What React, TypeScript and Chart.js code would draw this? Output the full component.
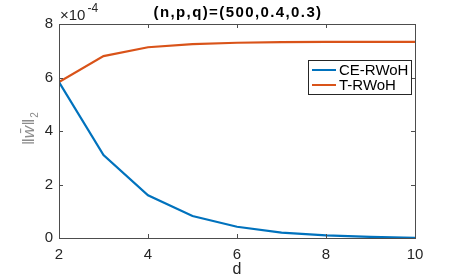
import React, { useEffect, useRef } from "react";
import { Chart, registerables } from "chart.js";

Chart.register(...registerables);

const dValues = [2, 3, 4, 5, 6, 7, 8, 9, 10];
const ceRWoH = [5.83, 3.1, 1.6, 0.82, 0.42, 0.2, 0.1, 0.04, 0.01];
const tRWoH = [5.83, 6.8, 7.13, 7.25, 7.3, 7.32, 7.33, 7.33, 7.33];
const xTicks = [2, 4, 6, 8, 10];
const yTicks = [0, 2, 4, 6, 8];
const seriesLabels = ["CE-RWoH", "T-RWoH"];
const seriesColors = ["#0072BD", "#D95319"];
const titleText = "(n,p,q)=(500,0.4,0.3)";
const xLabel = "d";

const FONT = "Liberation Sans, Arial, Helvetica, sans-serif";

const decorPlugin = {
  id: "decor",
  afterDatasetsDraw(chart: any) {
    const { ctx, chartArea } = chart;
    const { left, right, top, bottom } = chartArea;
    const xs = chart.scales.x;
    const ys = chart.scales.y;
    ctx.save();
    // box
    ctx.strokeStyle = "#4d4d4d";
    ctx.lineWidth = 1;
    ctx.strokeRect(Math.round(left) + 0.5, Math.round(top) + 0.5, Math.round(right - left), Math.round(bottom - top));
    // inward ticks
    const tl = 4;
    ctx.beginPath();
    xTicks.forEach((v) => {
      const px = Math.round(xs.getPixelForValue(v)) + 0.5;
      ctx.moveTo(px, bottom);
      ctx.lineTo(px, bottom - tl);
      ctx.moveTo(px, top);
      ctx.lineTo(px, top + tl);
    });
    yTicks.forEach((v) => {
      const py = Math.round(ys.getPixelForValue(v)) + 0.5;
      ctx.moveTo(left, py);
      ctx.lineTo(left + tl, py);
      ctx.moveTo(right, py);
      ctx.lineTo(right - tl, py);
    });
    ctx.stroke();

    // title
    ctx.save();
    ctx.fillStyle = "#000";
    ctx.font = `bold 15px ${FONT}`;
    (ctx as any).letterSpacing = "1.4px";
    ctx.textAlign = "center";
    ctx.textBaseline = "middle";
    ctx.fillText(titleText, (left + right) / 2 + 1, 13);
    ctx.restore();

    // exponent
    ctx.fillStyle = "#262626";
    ctx.font = `15px ${FONT}`;
    ctx.textAlign = "left";
    ctx.textBaseline = "alphabetic";
    ctx.fillText("\u00d710", left + 1, 20);
    const w10 = ctx.measureText("\u00d710").width;
    ctx.font = `12px ${FONT}`;
    ctx.fillText("-4", left + 1 + w10 + 2, 11.5);

    // x label
    ctx.font = `16px ${FONT}`;
    ctx.textAlign = "center";
    ctx.textBaseline = "middle";
    ctx.fillStyle = "#262626";
    ctx.fillText(xLabel, (left + right) / 2, 270);

    // y label (rotated)
    ctx.save();
    ctx.translate(29, 129);
    ctx.rotate(-Math.PI / 2);
    ctx.fillStyle = "#8c8c8c";
    ctx.font = `italic 17px ${FONT}`;
    ctx.textAlign = "left";
    ctx.textBaseline = "middle";
    const main = "\u2016w\u0304\u2016";
    const mw = ctx.measureText(main).width;
    ctx.fillText(main, -mw / 2 - 3, 0);
    ctx.font = `10px ${FONT}`;
    ctx.fillText("2", mw / 2 - 3 + 1, 6);
    ctx.restore();

    // legend
    const lx = 308, ly = 60, lw = 103, lh = 34;
    ctx.fillStyle = "#fff";
    ctx.fillRect(lx, ly, lw, lh);
    ctx.strokeStyle = "#262626";
    ctx.lineWidth = 1;
    ctx.strokeRect(lx + 0.5, ly + 0.5, lw, lh);
    chart.data.datasets.forEach((ds: any, i: number) => {
      const yy = ly + 10 + i * 15;
      ctx.strokeStyle = ds.borderColor;
      ctx.lineWidth = 2;
      ctx.beginPath();
      ctx.moveTo(lx + 4, yy);
      ctx.lineTo(lx + 28, yy);
      ctx.stroke();
      ctx.fillStyle = "#000";
      ctx.font = `15px ${FONT}`;
      ctx.textAlign = "left";
      ctx.textBaseline = "middle";
      ctx.fillText(ds.label, lx + 31, yy + 1);
    });
    ctx.restore();
  },
};

export default function App() {
  const ref = useRef<HTMLCanvasElement>(null);
  useEffect(() => {
    document.body.style.margin = "0";
    const canvas = ref.current!;
    const chart = new Chart(canvas, {
      type: "line",
      data: {
        datasets: seriesLabels.map((label, i) => ({
          label,
          data: dValues.map((d, j) => ({ x: d, y: (i === 0 ? ceRWoH : tRWoH)[j] })),
          borderColor: seriesColors[i],
          backgroundColor: seriesColors[i],
          borderWidth: 2.2,
          pointRadius: 0,
          tension: 0,
          fill: false,
        })),
      },
      options: {
        animation: false,
        responsive: false,
        maintainAspectRatio: false,
        events: [],
        layout: { padding: { left: 0, right: 43, top: 24, bottom: 0 } },
        plugins: {
          legend: { display: false },
          tooltip: { enabled: false },
          title: { display: false },
        },
        scales: {
          x: {
            type: "linear",
            min: 2,
            max: 10,
            grid: { display: false, drawTicks: false },
            border: { display: false },
            afterBuildTicks: (s: any) => {
              s.ticks = xTicks.map((v) => ({ value: v }));
            },
            afterFit: (s: any) => {
              s.height = 42;
            },
            ticks: {
              color: "#262626",
              font: { family: FONT, size: 15 },
              padding: 8,
              maxRotation: 0,
            },
          },
          y: {
            type: "linear",
            min: 0,
            max: 8,
            grid: { display: false, drawTicks: false },
            border: { display: false },
            afterBuildTicks: (s: any) => {
              s.ticks = yTicks.map((v) => ({ value: v }));
            },
            afterFit: (s: any) => {
              s.width = 59;
            },
            ticks: {
              color: "#262626",
              font: { family: FONT, size: 15 },
              padding: 6,
            },
          },
        },
      },
      plugins: [decorPlugin],
    } as any);
    return () => chart.destroy();
  }, []);
  return (
    <div style={{ width: 458, height: 280, background: "#fff" }}>
      <canvas ref={ref} width={458} height={280} style={{ display: "block" }} />
    </div>
  );
}
